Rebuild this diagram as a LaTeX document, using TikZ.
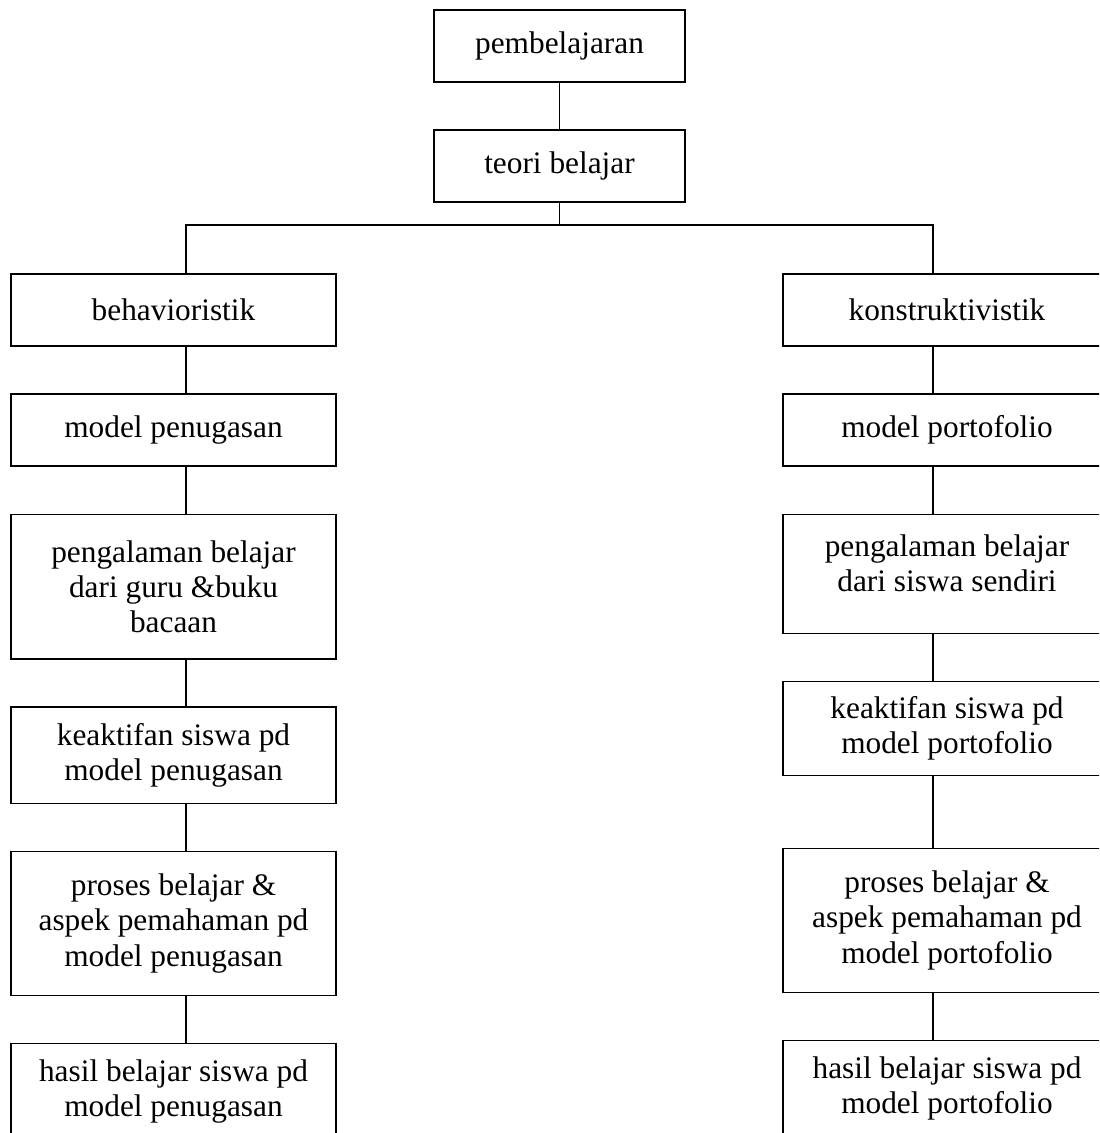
\documentclass[tikz,border=0pt]{standalone}
\usepackage{fontspec}
\setmainfont{Liberation Serif}
\usepackage{tikz}
\usetikzlibrary{positioning}

\begin{document}
\begin{tikzpicture}[x=0.383pt,y=-0.383pt,font=\fontsize{12}{13.5}\selectfont,line width=0.5pt,node distance=18.4pt]
\tikzstyle{kotak}=[draw,align=center,inner sep=0pt,outer sep=0pt,minimum width=124.5pt,minimum height=27.6pt]
\clip (0,0) rectangle (1099,1133);
% top
\node[kotak,minimum width=96.1pt] at (559.5,46) (pemb) {pembelajaran};
\node[kotak,minimum width=96.1pt,below=of pemb] (teori) {teori belajar};
% left column
\node[kotak] at (173.5,310) (behav) {behavioristik};
\node[kotak,below=of behav] (mpen) {model penugasan};
\node[kotak,below=of mpen,minimum height=55.5pt] (pengL) {pengalaman belajar\\dari guru \&buku\\bacaan};
\node[kotak,below=of pengL,minimum height=36.8pt] (keakL) {keaktifan siswa pd\\model penugasan};
\node[kotak,below=of keakL,minimum height=55.2pt] (prosL) {proses belajar \&\\aspek pemahaman pd\\model penugasan};
\node[kotak,below=of prosL,minimum height=36.8pt] (hasilL) {hasil belajar siswa pd\\model penugasan};
% right column
\node[kotak,minimum width=125.6pt] at (947,310) (konst) {konstruktivistik};
\node[kotak,minimum width=125.6pt,below=of konst] (mport) {model portofolio};
\node[kotak,minimum width=125.6pt,below=of mport,minimum height=45.6pt] (pengR) {pengalaman belajar\\dari siswa sendiri\\[-5.5pt]\mbox{}};
\node[kotak,minimum width=125.6pt,below=of pengR,minimum height=36pt] (keakR) {keaktifan siswa pd\\model portofolio};
\node[kotak,minimum width=125.6pt,below=28pt of keakR,minimum height=55.2pt] (prosR) {proses belajar \&\\aspek pemahaman pd\\model portofolio};
\node[kotak,minimum width=125.6pt,below=of prosR,minimum height=36.8pt] (hasilR) {hasil belajar siswa pd\\model portofolio};
% connectors
\coordinate (kiri) at (186,0);
\coordinate (kanan) at (933,0);
\coordinate (cabang) at (559.5,225);
\draw (pemb)--(teori); \draw (teori.south)--(cabang);
\draw (behav.north -| kiri) |- (cabang) -| (konst.north -| kanan);
\draw (behav.south -| kiri)--(mpen.north -| kiri); \draw (mpen.south -| kiri)--(pengL.north -| kiri);
\draw (pengL.south -| kiri)--(keakL.north -| kiri); \draw (keakL.south -| kiri)--(prosL.north -| kiri);
\draw (prosL.south -| kiri)--(hasilL.north -| kiri);
\draw (konst.south -| kanan)--(mport.north -| kanan); \draw (mport.south -| kanan)--(pengR.north -| kanan);
\draw (pengR.south -| kanan)--(keakR.north -| kanan); \draw (keakR.south -| kanan)--(prosR.north -| kanan);
\draw (prosR.south -| kanan)--(hasilR.north -| kanan);
\end{tikzpicture}
\end{document}
